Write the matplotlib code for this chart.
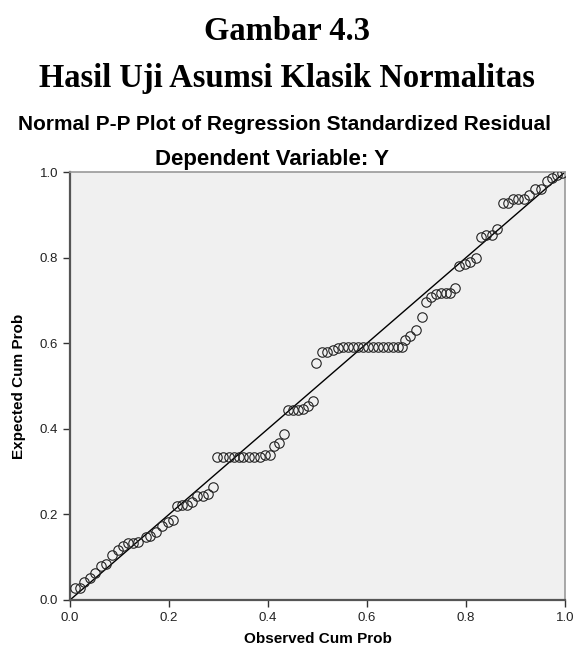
import matplotlib
matplotlib.use("Agg")
import matplotlib.pyplot as plt

# observed vs expected cumulative probabilities
observed = [
    0.010, 0.020, 0.028, 0.040, 0.050, 0.063, 0.073, 0.085, 0.097, 0.107,
    0.117, 0.127, 0.137, 0.154, 0.162, 0.174, 0.186, 0.198, 0.208, 0.216,
    0.226, 0.236, 0.246, 0.257, 0.269, 0.279, 0.289, 0.297, 0.309, 0.321,
    0.331, 0.341, 0.350, 0.362, 0.372, 0.384, 0.394, 0.404, 0.412, 0.422,
    0.432, 0.440, 0.450, 0.460, 0.471, 0.481, 0.490, 0.497, 0.509, 0.519,
    0.531, 0.541, 0.552, 0.562, 0.572, 0.582, 0.592, 0.602, 0.612, 0.622,
    0.632, 0.642, 0.653, 0.663, 0.671, 0.677, 0.687, 0.699, 0.711, 0.719,
    0.729, 0.739, 0.749, 0.760, 0.768, 0.778, 0.786, 0.798, 0.808, 0.820,
    0.830, 0.840, 0.853, 0.863, 0.875, 0.885, 0.895, 0.905, 0.917, 0.927,
    0.939, 0.951, 0.964, 0.974, 0.984, 0.994,
]
expected = [
    0.028, 0.028, 0.042, 0.051, 0.063, 0.079, 0.084, 0.105, 0.117, 0.126,
    0.133, 0.133, 0.136, 0.147, 0.150, 0.159, 0.173, 0.182, 0.187, 0.220,
    0.222, 0.222, 0.229, 0.243, 0.243, 0.248, 0.264, 0.334, 0.334, 0.334,
    0.334, 0.334, 0.334, 0.334, 0.334, 0.334, 0.338, 0.338, 0.360, 0.367,
    0.388, 0.444, 0.444, 0.444, 0.446, 0.453, 0.464, 0.554, 0.579, 0.579,
    0.584, 0.589, 0.591, 0.591, 0.591, 0.591, 0.591, 0.591, 0.591, 0.591,
    0.591, 0.591, 0.591, 0.591, 0.591, 0.607, 0.617, 0.631, 0.661, 0.696,
    0.708, 0.715, 0.717, 0.717, 0.717, 0.729, 0.780, 0.785, 0.790, 0.799,
    0.848, 0.853, 0.853, 0.867, 0.928, 0.928, 0.937, 0.937, 0.937, 0.946,
    0.960, 0.960, 0.979, 0.986, 0.993, 0.998,
]
ticks = [0.0, 0.2, 0.4, 0.6, 0.8, 1.0]
tick_labels = ["0.0", "0.2", "0.4", "0.6", "0.8", "1.0"]

fig = plt.figure(figsize=(5.73, 6.53), dpi=100)
ax = fig.add_axes([0.1222, 0.0812, 0.8639, 0.6554])
ax.set_facecolor("#f0f0f0")

ax.plot([0, 1], [0, 1], color="black", lw=1.0, zorder=2)
ax.plot(observed, expected, linestyle="none", marker="o", markersize=6.8,
        markerfacecolor="none", markeredgecolor="#222222",
        markeredgewidth=0.8, zorder=3)

ax.set_xlim(0, 1)
ax.set_ylim(0, 1)
ax.set_xticks(ticks, tick_labels)
ax.set_yticks(ticks, tick_labels)
ax.tick_params(direction="out", length=5, width=1, colors="#333333",
               labelsize=9.5, labelcolor="#222222")
for lab in ax.get_xticklabels() + ax.get_yticklabels():
    lab.set_family("Liberation Sans")
for side in ("left", "bottom"):
    ax.spines[side].set_color("#555555")
    ax.spines[side].set_linewidth(1.6)
for side in ("top", "right"):
    ax.spines[side].set_color("#999999")
    ax.spines[side].set_linewidth(1.2)

ax.set_xlabel("Observed Cum Prob", family="Liberation Sans", weight="bold",
              fontsize=11, labelpad=6)
ax.set_ylabel("Expected Cum Prob", family="Liberation Sans", weight="bold",
              fontsize=11, labelpad=10)

fig.text(0.5, 1 - 31 / 653, "Gambar 4.3", ha="center", va="center",
         family="Liberation Serif", weight="bold", fontsize=23.5)
fig.text(0.5, 1 - 78 / 653, "Hasil Uji Asumsi Klasik Normalitas",
         ha="center", va="center", family="Liberation Serif", weight="bold",
         fontsize=23.5)
fig.text(0.497, 1 - 125 / 653,
         "Normal P-P Plot of Regression Standardized Residual",
         ha="center", va="center", family="Liberation Sans", weight="bold",
         fontsize=15)
fig.text(0.475, 1 - 159 / 653, "Dependent Variable: Y", ha="center",
         va="center", family="Liberation Sans", weight="bold", fontsize=16)

fig.savefig("out.png", dpi=100)
